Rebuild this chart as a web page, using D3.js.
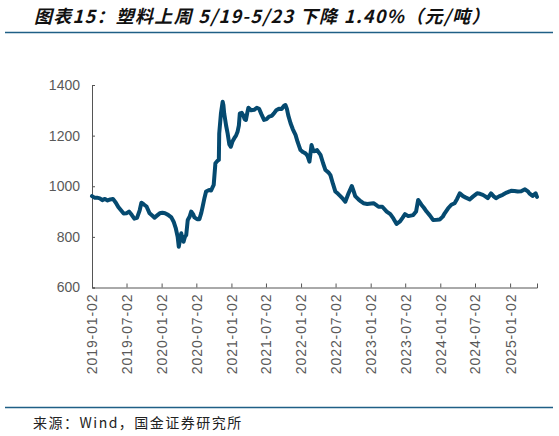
<!DOCTYPE html>
<html>
<head>
<meta charset="utf-8">
<script src="https://cdn.jsdelivr.net/npm/d3@7"></script>
<style>
  html, body { margin: 0; padding: 0; background: #fff; }
  svg { display: block; }
</style>
</head>
<body>
<svg id="chart" width="559" height="436"></svg>
<script>
const titleText = "图表15：塑料上周 5/19-5/23 下降 1.40%（元/吨）";
const sourceText = "来源：Wind，国金证券研究所";

const dates = [
"2019-01-02","2019-01-15","2019-01-28","2019-02-12","2019-02-25","2019-03-11","2019-03-25","2019-04-08","2019-04-22","2019-05-07",
"2019-05-20","2019-06-03","2019-06-17","2019-07-01","2019-07-15","2019-07-29","2019-08-12","2019-08-26","2019-09-09","2019-09-18",
"2019-10-01","2019-10-15","2019-10-31","2019-11-12","2019-11-26","2019-12-10","2019-12-23","2020-01-06","2020-01-20","2020-02-05",
"2020-02-22","2020-03-05","2020-03-16","2020-03-26","2020-04-01","2020-04-08","2020-04-14","2020-04-20","2020-04-26","2020-05-03",
"2020-05-10","2020-05-18","2020-05-28","2020-06-05","2020-06-15","2020-06-22","2020-07-06","2020-07-18","2020-07-28","2020-08-04",
"2020-08-14","2020-08-22","2020-09-07","2020-09-17","2020-10-01","2020-10-10","2020-10-20","2020-10-28","2020-10-30","2020-11-08",
"2020-11-17","2020-11-21","2020-11-25","2020-12-05","2020-12-13","2020-12-22","2020-12-30","2021-01-08","2021-01-17","2021-01-26",
"2021-02-03","2021-02-10","2021-02-15","2021-02-25","2021-03-05","2021-03-12","2021-03-19","2021-03-26","2021-04-01","2021-04-15",
"2021-05-01","2021-05-15","2021-05-27","2021-06-08","2021-06-22","2021-07-05","2021-07-18","2021-08-01","2021-08-13","2021-08-25",
"2021-09-08","2021-09-22","2021-10-05","2021-10-12","2021-10-20","2021-10-27","2021-11-08","2021-11-20","2021-12-04","2021-12-15",
"2021-12-30","2022-01-12","2022-01-25","2022-02-05","2022-02-15","2022-02-26","2022-03-05","2022-03-10","2022-03-27","2022-04-14",
"2022-04-28","2022-05-10","2022-05-25","2022-06-05","2022-06-18","2022-07-01","2022-07-15","2022-07-27","2022-08-10","2022-08-22",
"2022-09-08","2022-09-25","2022-10-05","2022-10-13","2022-10-30","2022-11-12","2022-11-25","2022-12-15","2023-01-05","2023-01-17",
"2023-02-01","2023-02-12","2023-03-04","2023-03-27","2023-04-15","2023-05-01","2023-05-18","2023-06-05","2023-06-18","2023-07-01",
"2023-07-18","2023-08-13","2023-08-28","2023-09-08","2023-09-25","2023-10-08","2023-10-22","2023-11-08","2023-11-25","2023-12-15",
"2023-12-30","2024-01-15","2024-01-25","2024-02-12","2024-02-29","2024-03-17","2024-03-30","2024-04-13","2024-04-30","2024-05-15",
"2024-06-04","2024-06-21","2024-07-13","2024-07-28","2024-08-12","2024-08-25","2024-09-07","2024-09-24","2024-10-08","2024-10-20",
"2024-11-05","2024-11-24","2024-12-15","2025-01-07","2025-01-25","2025-02-11","2025-03-01","2025-03-21","2025-04-05","2025-04-13",
"2025-04-30","2025-05-16","2025-05-23"
];

const prices = [
961,955,955,952,945,950,944,948,950,935,
918,905,892,893,900,887,872,875,905,935,
928,920,893,885,876,885,893,895,893,887,
877,860,835,800,761,790,814,790,781,800,
807,867,880,900,890,877,870,870,895,919,
955,979,985,983,1005,1091,1100,1104,1209,1288,
1334,1320,1288,1240,1209,1165,1156,1178,1190,1200,
1215,1240,1288,1290,1280,1265,1262,1290,1310,1300,
1302,1310,1306,1285,1262,1265,1275,1278,1288,1300,
1306,1305,1318,1321,1305,1280,1249,1225,1203,1175,
1143,1135,1130,1120,1097,1163,1145,1138,1143,1124,
1090,1064,1055,1044,1010,979,970,961,950,939,
972,1001,980,961,948,940,933,930,932,933,
925,919,919,900,890,873,851,861,875,890,
882,886,900,946,927,915,900,885,867,868,
869,880,893,913,927,933,950,972,961,955,
948,959,972,970,966,960,953,972,960,953,
960,966,975,982,981,979,980,988,980,972,
962,972,958
];

const xTickLabels = ["2019-01-02","2019-07-02","2020-01-02","2020-07-02","2021-01-02","2021-07-02",
  "2022-01-02","2022-07-02","2023-01-02","2023-07-02","2024-01-02","2024-07-02","2025-01-02"];
const yTickValues = [600, 800, 1000, 1200, 1400];

const parse = d3.timeParse("%Y-%m-%d");
const data = dates.map((d, i) => ({ date: parse(d), value: prices[i] }));

const svg = d3.select("#chart");

const x = d3.scaleTime()
  .domain([parse("2019-01-02"), parse("2025-05-23")])
  .range([92, 537]);
const y = d3.scaleLinear().domain([600, 1400]).range([287.5, 85]);

// title
svg.append("text")
  .attr("x", 34).attr("y", 23)
  .attr("font-family", "'Noto Sans CJK SC', sans-serif")
  .attr("font-size", 18).attr("font-weight", "bold").attr("font-style", "italic")
  .attr("letter-spacing", "1.3px")
  .attr("fill", "#111")
  .text(titleText);

svg.append("line").attr("x1", 5).attr("x2", 553).attr("y1", 32.5).attr("y2", 32.5)
  .attr("stroke", "#1f5f86").attr("stroke-width", 1.6);

// y axis
const yAxis = svg.append("g").attr("transform", "translate(92,0)")
  .call(d3.axisLeft(y).tickValues(yTickValues).tickSize(-3).tickPadding(12).tickFormat(d3.format("d")));
yAxis.select(".domain").attr("stroke", "#555");
yAxis.selectAll(".tick line").attr("stroke", "#555");
yAxis.selectAll("text").attr("font-family", "'Liberation Sans', Arial, sans-serif")
  .attr("font-size", 14).attr("fill", "#595959");

// x axis
const xAxis = svg.append("g").attr("transform", "translate(0,287.5)")
  .call(d3.axisBottom(x).tickValues(xTickLabels.map(parse)).tickSize(-4)
    .tickFormat(d3.timeFormat("%Y-%m-%d")));
xAxis.select(".domain").attr("stroke", "#555");
xAxis.selectAll(".tick line").attr("stroke", "#555");
xAxis.selectAll("text")
  .attr("font-family", "'Liberation Sans', Arial, sans-serif")
  .attr("font-size", 14).attr("fill", "#595959")
  .attr("letter-spacing", "0.9px")
  .attr("text-anchor", "end")
  .attr("transform", "rotate(-90)")
  .attr("x", -6).attr("y", 0).attr("dy", "0.35em");

// line
svg.append("path").datum(data)
  .attr("fill", "none")
  .attr("stroke", "#054a70")
  .attr("stroke-width", 4)
  .attr("stroke-linejoin", "round")
  .attr("stroke-linecap", "round")
  .attr("d", d3.line().x(d => x(d.date)).y(d => y(d.value)));

// footer
svg.append("line").attr("x1", 5).attr("x2", 553).attr("y1", 407.5).attr("y2", 407.5)
  .attr("stroke", "#1f5f86").attr("stroke-width", 1.4);
svg.append("text")
  .attr("x", 33).attr("y", 428)
  .attr("font-family", "'Noto Sans CJK SC', sans-serif")
  .attr("font-size", 14).attr("letter-spacing", "1.5px").attr("fill", "#222")
  .text(sourceText);
</script>
</body>
</html>
